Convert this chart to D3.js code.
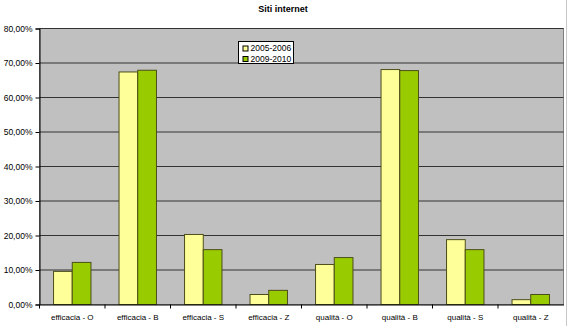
<!DOCTYPE html>
<html>
<head>
<meta charset="utf-8">
<script src="https://cdn.jsdelivr.net/npm/d3@7"></script>
<style>
  body { margin: 0; background: #fff; }
  svg { display: block; font-family: "Liberation Sans", Arial, sans-serif; }
  .tick text { fill: #000; }
  .y-axis .tick text { font-size: 8.5px; }
  .x-axis .tick text { font-size: 8px; }
</style>
</head>
<body>
<div id="chart"></div>
<script>
const categories = ["efficacia - O", "efficacia - B", "efficacia - S", "efficacia - Z",
  "qualità - O", "qualità - B", "qualità - S", "qualità - Z"];
const seriesNames = ["2005-2006", "2009-2010"];
const values2005 = [9.6, 67.4, 20.3, 2.9, 11.6, 68.1, 18.8, 1.4];
const values2010 = [12.2, 67.9, 15.9, 4.1, 13.6, 67.8, 15.9, 2.9];
const yTicks = [0, 10, 20, 30, 40, 50, 60, 70, 80];
const colors = ["#FFFF99", "#99CC00"];

const W = 567, H = 326;
const margin = {top: 28.5, right: 4, bottom: 22, left: 39.5};
const width = 563.5 - margin.left, height = 304.5 - margin.top;

const root = d3.select("#chart").append("svg")
  .attr("width", W).attr("height", H);

// outer right edge line
root.append("line")
  .attr("x1", 566.5).attr("x2", 566.5).attr("y1", 0).attr("y2", H)
  .attr("stroke", "#c8c8c8");

root.append("text")
  .attr("x", 283).attr("y", 12)
  .attr("text-anchor", "middle")
  .attr("font-size", "9px").attr("font-weight", "bold")
  .text("Siti internet");

const svg = root.append("g")
  .attr("transform", `translate(${margin.left}, ${margin.top})`);

const x = d3.scaleBand().domain(categories).range([0, width]);
const y = d3.scaleLinear().domain([0, 80]).range([height, 0]);

svg.append("rect")
  .attr("width", width).attr("height", height)
  .attr("fill", "#C0C0C0").attr("stroke", "#808080");

// grid lines
svg.append("g")
  .selectAll("line")
  .data(yTicks.slice(1))
  .enter().append("line")
    .attr("x1", 0).attr("x2", width)
    .attr("y1", d => y(d)).attr("y2", d => y(d))
    .attr("stroke", "#333");

const x1 = d3.scaleBand().domain(seriesNames)
  .range([x.bandwidth() * 0.75 / 3.5, x.bandwidth() * 2.75 / 3.5]);

const rows = categories.map((c, i) => ({cat: c, vals: [values2005[i], values2010[i]]}));

svg.append("g")
  .selectAll("g")
  .data(rows)
  .enter().append("g")
    .attr("transform", d => `translate(${x(d.cat)}, 0)`)
  .selectAll("rect")
  .data(d => d.vals.map((v, j) => ({v, j})))
  .enter().append("rect")
    .attr("x", d => x1(seriesNames[d.j]))
    .attr("y", d => y(d.v))
    .attr("width", x1.bandwidth())
    .attr("height", d => height - y(d.v))
    .attr("fill", d => colors[d.j])
    .attr("stroke", "#4d4d1a").attr("stroke-width", 1);

// axes
svg.append("g")
  .attr("class", "y-axis")
  .call(d3.axisLeft(y).tickValues(yTicks).tickSize(4).tickPadding(3)
    .tickFormat(d => d3.format(".2f")(d).replace(".", ",") + "%"))
  .call(g => g.selectAll("path, line").attr("stroke", "#000"));

const xAxis = svg.append("g")
  .attr("class", "x-axis")
  .attr("transform", `translate(0, ${height})`)
  .call(d3.axisBottom(x).tickSize(0).tickPadding(10));
xAxis.select(".domain").attr("stroke", "#000");

svg.append("g")
  .selectAll("line")
  .data(categories)
  .enter().append("line")
    .attr("x1", d => x(d)).attr("x2", d => x(d))
    .attr("y1", height).attr("y2", height + 4)
    .attr("stroke", "#000");

// legend
const legend = root.append("g").attr("transform", "translate(238.5, 41.5)");
legend.append("rect")
  .attr("width", 55).attr("height", 22)
  .attr("fill", "#fff").attr("stroke", "#000");
seriesNames.forEach((s, i) => {
  legend.append("rect")
    .attr("x", 4.5).attr("y", 4.5 + i * 10.5)
    .attr("width", 5).attr("height", 5)
    .attr("fill", colors[i]).attr("stroke", "#000");
  legend.append("text")
    .attr("x", 12).attr("y", 9.5 + i * 10.5)
    .attr("font-size", "8.5px")
    .text(s);
});
</script>
</body>
</html>
